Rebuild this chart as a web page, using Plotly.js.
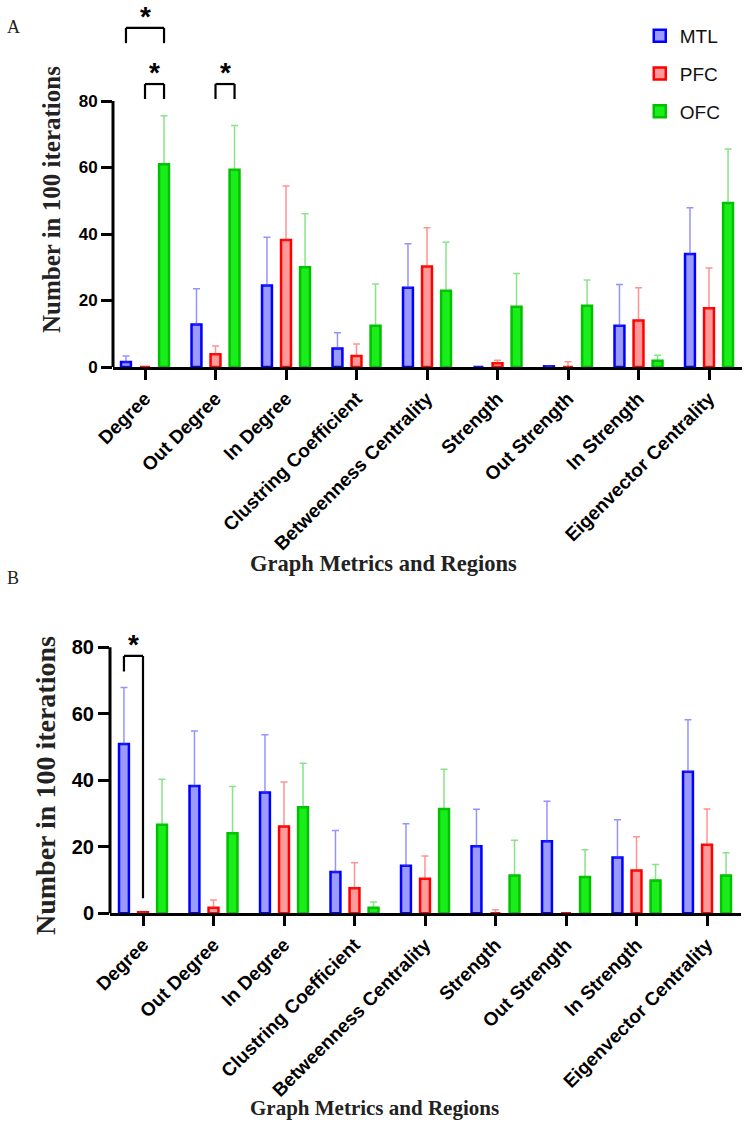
<!DOCTYPE html>
<html><head><meta charset="utf-8">
<script src="https://cdn.plot.ly/plotly-3.0.1.min.js"></script>
<style>html,body{margin:0;padding:0;background:#fff}</style>
</head><body>
<div id="chart" style="width:750px;height:1133px"></div>
<script>
// ---------- data ----------
const categories = ["Degree","Out Degree","In Degree","Clustring Coefficient","Betweenness Centrality","Strength","Out Strength","In Strength","Eigenvector Centrality"];
const regions = ["MTL","PFC","OFC"];

// Panel A : mean and upper error (SD)
const mtlA    = [1.5, 12.8, 24.5, 5.6, 23.8, 0.0, 0.2, 12.4, 34.0];
const mtlAErr = [1.8, 10.7, 14.5, 4.7, 13.3, 0.0, 0.0, 12.4, 13.9];
const pfcA    = [0.0, 3.8, 38.2, 3.3, 30.2, 1.1, 0.0, 14.0, 17.7];
const pfcAErr = [0.0, 2.5, 16.2, 3.6, 11.7, 0.9, 1.6, 9.8, 12.1];
const ofcA    = [61.0, 59.3, 30.0, 12.4, 22.9, 18.1, 18.4, 1.9, 49.3];
const ofcAErr = [14.6, 13.3, 16.1, 12.6, 14.6, 10.0, 7.8, 1.6, 16.3];

// Panel B
const mtlB    = [50.9, 38.3, 36.3, 12.4, 14.3, 20.2, 21.7, 16.8, 42.6];
const mtlBErr = [17.0, 16.5, 17.4, 12.5, 12.6, 11.1, 12.0, 11.3, 15.6];
const pfcB    = [0.3, 1.7, 26.1, 7.5, 10.4, 0.0, 0.0, 12.9, 20.6];
const pfcBErr = [0.0, 2.3, 13.4, 7.7, 6.8, 1.1, 0.0, 10.1, 10.8];
const ofcB    = [26.6, 24.1, 31.9, 1.7, 31.4, 11.4, 10.9, 9.9, 11.4];
const ofcBErr = [13.7, 14.0, 13.2, 1.7, 11.9, 10.6, 8.2, 4.8, 6.8];

const yTicks = [0, 20, 40, 60, 80];

// significance brackets: [x left, x right, top, left end, right end]
const bracketsA = [
  [-0.27, 0.27, 102, 97.4, 97.4],
  [0.0, 0.27, 85.1, 80.6, 80.6],
  [1.0, 1.27, 85.1, 80.6, 80.6]
];
const bracketsB = [
  [-0.27, 0.0, 77.4, 72.7, 4.5]
];

// ---------- styling ----------
const idx = categories.map((_, i) => i);
const lineCols = {MTL: "#0000ff", PFC: "#ff0000", OFC: "#00c000"};
const fillCols = {MTL: "#9a9aff", PFC: "#ff9a9a", OFC: "#1aee1a"};
const errCols  = {MTL: "rgba(60,60,255,0.55)", PFC: "rgba(255,40,40,0.5)", OFC: "rgba(20,200,20,0.5)"};

function barTrace(name, y, err, xa, ya, showlegend) {
  return {
    type: "bar", name: name, x: idx, y: y, xaxis: xa, yaxis: ya,
    showlegend: showlegend, legendgroup: name,
    marker: {color: fillCols[name], line: {color: lineCols[name], width: 2.5}},
    error_y: {type: "data", symmetric: false, array: err, arrayminus: err.map(() => 0),
              color: errCols[name], thickness: 1.5, width: 3.5},
    hoverinfo: "x+y"
  };
}

const data = [
  barTrace("MTL", mtlA, mtlAErr, "x", "y", true),
  barTrace("PFC", pfcA, pfcAErr, "x", "y", true),
  barTrace("OFC", ofcA, ofcAErr, "x", "y", true),
  barTrace("MTL", mtlB, mtlBErr, "x2", "y2", false),
  barTrace("PFC", pfcB, pfcBErr, "x2", "y2", false),
  barTrace("OFC", ofcB, ofcBErr, "x2", "y2", false)
];

const yMaxA = 108, yMaxB = 85;
const boldSans = {family: "Liberation Sans, Arial, sans-serif", color: "#000", weight: "bold"};
const serifBold = {family: "Liberation Serif, Times New Roman, serif", color: "#222", weight: "bold"};

function xAxis(domain, range, anchor) {
  return {
    domain: domain, range: range, anchor: anchor,
    tickmode: "array", tickvals: idx, ticktext: categories, tickangle: -45,
    ticks: "outside", ticklen: 10, tickwidth: 3, tickcolor: "#000",
    showline: true, linewidth: 3, linecolor: "#000",
    showgrid: false, zeroline: false,
    tickfont: Object.assign({size: 19}, boldSans), automargin: false
  };
}
function yAxis(domain, range, anchor, fsize) {
  return {
    domain: domain, range: range, anchor: anchor,
    tickmode: "array", tickvals: yTicks,
    ticks: "outside", ticklen: 11, tickwidth: 3, tickcolor: "#000",
    showline: false, showgrid: false, zeroline: false,
    tickfont: Object.assign({size: fsize}, boldSans), automargin: false
  };
}

const shapes = [];
function axisLine(xr, yr, ymax) {
  shapes.push({type: "line", xref: xr + " domain", yref: yr + " domain",
    x0: 0, x1: 0, y0: 0, y1: 80 / ymax, line: {color: "#000", width: 3}});
}
axisLine("x", "y", yMaxA);
axisLine("x2", "y2", yMaxB);

const annotations = [];
function addBrackets(list, xr, yr) {
  list.forEach(b => {
    const ln = {color: "#000", width: 2.2};
    shapes.push({type: "line", xref: xr, yref: yr, x0: b[0], x1: b[1], y0: b[2], y1: b[2], line: ln});
    shapes.push({type: "line", xref: xr, yref: yr, x0: b[0], x1: b[0], y0: b[2], y1: b[3], line: ln});
    shapes.push({type: "line", xref: xr, yref: yr, x0: b[1], x1: b[1], y0: b[2], y1: b[4], line: ln});
    annotations.push({xref: xr, yref: yr, x: (b[0] + b[1]) / 2, y: b[2], text: "*",
      showarrow: false, xanchor: "center", yanchor: "bottom", yshift: -6,
      font: Object.assign({size: 28}, boldSans)});
  });
}
addBrackets(bracketsA, "x", "y");
addBrackets(bracketsB, "x2", "y2");

// titles and panel letters
function paperText(x, y, text, font, angle) {
  annotations.push({xref: "paper", yref: "paper", x: x / 750, y: 1 - y / 1133, text: text,
    showarrow: false, xanchor: "center", yanchor: "middle", textangle: angle || 0, font: font});
}
paperText(383, 563, "Graph Metrics and Regions", Object.assign({size: 22.5}, serifBold));
paperText(374, 1108, "Graph Metrics and Regions", Object.assign({size: 21}, serifBold));
paperText(51, 200, "Number in 100 iterations", Object.assign({size: 25}, serifBold), -90);
paperText(45, 786, "Number in 100 iterations", Object.assign({size: 28}, serifBold), -90);
paperText(13, 27, "A", {family: "Liberation Serif, Times New Roman, serif", size: 18, color: "#222"});
paperText(13, 578, "B", {family: "Liberation Serif, Times New Roman, serif", size: 18, color: "#222"});

const layout = {
  width: 750, height: 1133,
  margin: {l: 0, r: 0, t: 0, b: 0},
  paper_bgcolor: "#fff", plot_bgcolor: "#fff",
  barmode: "group", bargap: 0.19, bargroupgap: 0.48,
  xaxis: xAxis([113 / 750, 742 / 750], [-0.454, 8.468], "y"),
  yaxis: yAxis([1 - 367 / 1133, 1 - (367 - yMaxA * 3.325) / 1133], [0, yMaxA], "x", 17),
  xaxis2: xAxis([110 / 750, 741 / 750], [-0.468, 8.482], "y2"),
  yaxis2: yAxis([1 - 913.3 / 1133, 1 - (913.3 - yMaxB * 3.325) / 1133], [0, yMaxB], "x2", 20),
  legend: {x: 0.853, y: 0.985, xanchor: "left", yanchor: "top", bgcolor: "rgba(0,0,0,0)",
           font: {family: "Liberation Sans, Arial, sans-serif", size: 19, color: "#111"},
           tracegroupgap: 10},
  shapes: shapes,
  annotations: annotations,
  showlegend: true
};

Plotly.newPlot("chart", data, layout, {displayModeBar: false, staticPlot: true});
</script>
</body></html>
